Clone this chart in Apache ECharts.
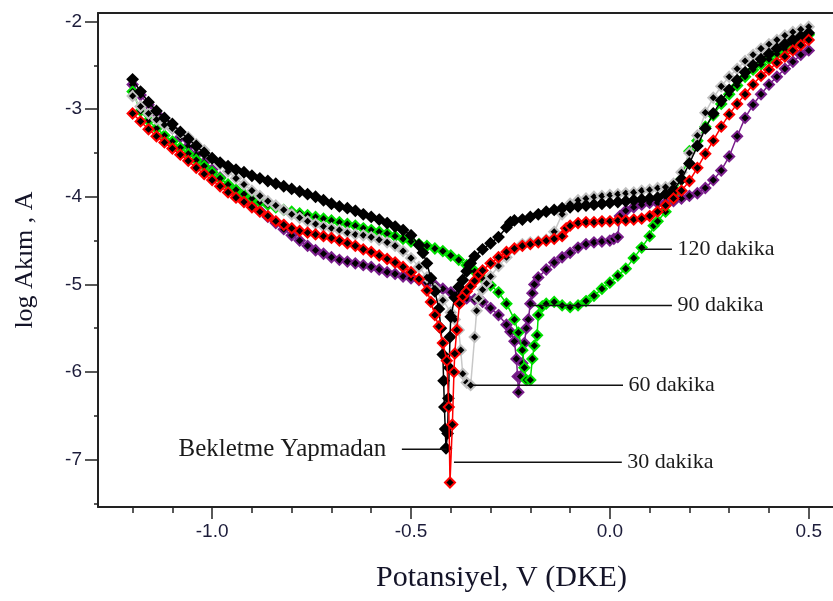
<!DOCTYPE html>
<html>
<head>
<meta charset="utf-8">
<script src="https://cdn.jsdelivr.net/npm/echarts@6/dist/echarts.min.js"></script>
<style>
  html, body { margin: 0; padding: 0; background: #fff; }
  #chart { width: 833px; height: 601px; }
</style>
</head>
<body>
<div id="chart"></div>
<script>
// tick positions
const xMajorTicks = [-1.0, -0.5, 0.0, 0.5]
const xMinorTicks = [-1.2, -1.1, -0.9, -0.8, -0.7, -0.6, -0.4, -0.3, -0.2, -0.1, 0.1, 0.2, 0.3, 0.4]
const yMajorTicks = [-2, -3, -4, -5, -6, -7]
const yMinorTicks = [-2.5, -3.5, -4.5, -5.5, -6.5, -7.5]

// Bekletme Yapmadan (siyah)
const seriesBekletme = [
  [-1.20, -2.66], [-1.18, -2.80], [-1.16, -2.92], [-1.14, -3.02], [-1.12, -3.10], [-1.10, -3.17],
  [-1.08, -3.26], [-1.06, -3.34], [-1.04, -3.42], [-1.02, -3.50], [-1.00, -3.56], [-0.98, -3.61],
  [-0.96, -3.65], [-0.94, -3.69], [-0.92, -3.72], [-0.90, -3.76], [-0.88, -3.79], [-0.86, -3.82],
  [-0.84, -3.85], [-0.82, -3.88], [-0.80, -3.91], [-0.78, -3.94], [-0.76, -3.97], [-0.74, -4.00],
  [-0.72, -4.04], [-0.70, -4.08], [-0.68, -4.11], [-0.66, -4.13], [-0.64, -4.16], [-0.62, -4.20],
  [-0.60, -4.23], [-0.58, -4.26], [-0.56, -4.30], [-0.54, -4.34], [-0.52, -4.38], [-0.50, -4.44],
  [-0.48, -4.55], [-0.47, -4.64], [-0.46, -4.76], [-0.45, -4.93], [-0.44, -5.08], [-0.43, -5.28],
  [-0.425, -5.50], [-0.42, -5.80], [-0.418, -6.10], [-0.416, -6.40], [-0.414, -6.65], [-0.412, -6.87],
  [-0.408, -6.70], [-0.406, -6.30], [-0.404, -5.95], [-0.402, -5.60], [-0.40, -5.37], [-0.39, -5.15],
  [-0.38, -5.03], [-0.37, -4.95], [-0.36, -4.85], [-0.35, -4.76], [-0.34, -4.68], [-0.32, -4.60],
  [-0.30, -4.53], [-0.28, -4.46], [-0.26, -4.35], [-0.25, -4.29], [-0.24, -4.27], [-0.22, -4.26],
  [-0.20, -4.23], [-0.18, -4.20], [-0.16, -4.17], [-0.14, -4.15], [-0.12, -4.13], [-0.10, -4.12],
  [-0.08, -4.11], [-0.06, -4.10], [-0.04, -4.09], [-0.02, -4.08], [0.00, -4.07], [0.02, -4.06],
  [0.04, -4.05], [0.06, -4.04], [0.08, -4.03], [0.10, -4.02], [0.12, -4.01], [0.14, -3.97],
  [0.16, -3.92], [0.18, -3.80], [0.20, -3.62], [0.22, -3.42], [0.24, -3.22], [0.26, -3.05],
  [0.28, -2.90], [0.30, -2.78], [0.32, -2.67], [0.34, -2.58], [0.36, -2.50], [0.38, -2.43],
  [0.40, -2.37], [0.42, -2.31], [0.44, -2.26], [0.46, -2.21], [0.48, -2.17], [0.50, -2.13]
]

// 30 dakika (kirmizi)
const series30 = [
  [-1.20, -3.05], [-1.18, -3.14], [-1.16, -3.23], [-1.14, -3.31], [-1.12, -3.38], [-1.10, -3.45],
  [-1.08, -3.52], [-1.06, -3.59], [-1.04, -3.67], [-1.02, -3.74], [-1.00, -3.81], [-0.98, -3.88],
  [-0.96, -3.95], [-0.94, -4.01], [-0.92, -4.06], [-0.90, -4.12], [-0.88, -4.17], [-0.86, -4.22],
  [-0.84, -4.28], [-0.82, -4.32], [-0.80, -4.36], [-0.78, -4.39], [-0.76, -4.41], [-0.74, -4.43],
  [-0.72, -4.45], [-0.70, -4.47], [-0.68, -4.50], [-0.66, -4.53], [-0.64, -4.56], [-0.62, -4.60],
  [-0.60, -4.63], [-0.58, -4.67], [-0.56, -4.71], [-0.54, -4.75], [-0.52, -4.80], [-0.50, -4.86],
  [-0.48, -4.94], [-0.46, -5.07], [-0.45, -5.20], [-0.44, -5.35], [-0.43, -5.48], [-0.42, -5.67],
  [-0.41, -5.87], [-0.405, -6.40], [-0.402, -7.26], [-0.396, -6.60], [-0.392, -6.00], [-0.39, -5.79],
  [-0.385, -5.52], [-0.378, -5.22], [-0.37, -5.14], [-0.36, -5.08], [-0.35, -5.02], [-0.34, -4.96],
  [-0.33, -4.89], [-0.32, -4.84], [-0.30, -4.76], [-0.28, -4.69], [-0.26, -4.63], [-0.24, -4.59],
  [-0.22, -4.56], [-0.20, -4.54], [-0.18, -4.52], [-0.16, -4.50], [-0.14, -4.48], [-0.12, -4.45],
  [-0.11, -4.36], [-0.10, -4.33], [-0.08, -4.30], [-0.06, -4.29], [-0.04, -4.29], [-0.02, -4.28],
  [0.00, -4.28], [0.02, -4.27], [0.04, -4.27], [0.06, -4.26], [0.08, -4.25], [0.10, -4.22],
  [0.12, -4.17], [0.14, -4.10], [0.16, -4.02], [0.18, -3.93], [0.20, -3.82], [0.22, -3.67],
  [0.24, -3.51], [0.26, -3.36], [0.28, -3.20], [0.30, -3.06], [0.32, -2.94], [0.34, -2.83],
  [0.36, -2.72], [0.38, -2.62], [0.40, -2.55], [0.42, -2.47], [0.44, -2.40], [0.46, -2.33],
  [0.48, -2.27], [0.50, -2.21]
]

// 60 dakika (gri)
const series60 = [
  [-1.20, -2.85], [-1.18, -2.97], [-1.16, -3.05], [-1.14, -3.12], [-1.12, -3.18], [-1.10, -3.22],
  [-1.08, -3.27], [-1.06, -3.32], [-1.04, -3.40], [-1.02, -3.47], [-1.00, -3.56], [-0.98, -3.63],
  [-0.96, -3.71], [-0.94, -3.79], [-0.92, -3.86], [-0.90, -3.93], [-0.88, -3.99], [-0.86, -4.05],
  [-0.84, -4.10], [-0.82, -4.15], [-0.80, -4.20], [-0.78, -4.24], [-0.76, -4.28], [-0.74, -4.31],
  [-0.72, -4.34], [-0.70, -4.36], [-0.68, -4.38], [-0.66, -4.41], [-0.64, -4.43], [-0.62, -4.44],
  [-0.60, -4.46], [-0.58, -4.49], [-0.56, -4.52], [-0.54, -4.56], [-0.52, -4.62], [-0.50, -4.70],
  [-0.48, -4.80], [-0.46, -4.92], [-0.44, -5.05], [-0.42, -5.18], [-0.40, -5.32], [-0.39, -5.40],
  [-0.38, -5.52], [-0.375, -5.75], [-0.37, -6.02], [-0.36, -6.12], [-0.35, -6.15], [-0.34, -5.60],
  [-0.335, -5.30], [-0.33, -5.16], [-0.32, -5.06], [-0.31, -4.99], [-0.30, -4.91], [-0.28, -4.79],
  [-0.26, -4.69], [-0.24, -4.60], [-0.22, -4.54], [-0.20, -4.52], [-0.18, -4.51], [-0.16, -4.49],
  [-0.14, -4.40], [-0.12, -4.20], [-0.10, -4.08], [-0.08, -4.04], [-0.06, -4.02], [-0.04, -4.00],
  [-0.02, -3.99], [0.00, -3.98], [0.02, -3.97], [0.04, -3.96], [0.06, -3.95], [0.08, -3.93],
  [0.10, -3.92], [0.12, -3.90], [0.14, -3.89], [0.16, -3.85], [0.18, -3.72], [0.20, -3.50],
  [0.22, -3.30], [0.24, -3.04], [0.26, -2.87], [0.28, -2.74], [0.30, -2.63], [0.32, -2.54],
  [0.34, -2.45], [0.36, -2.38], [0.38, -2.31], [0.40, -2.26], [0.42, -2.21], [0.44, -2.16],
  [0.46, -2.12], [0.48, -2.09], [0.50, -2.06]
]

// 90 dakika (mor)
const series90 = [
  [-1.20, -2.72], [-1.18, -2.84], [-1.16, -2.95], [-1.14, -3.05], [-1.12, -3.14], [-1.10, -3.22],
  [-1.08, -3.32], [-1.06, -3.42], [-1.04, -3.52], [-1.02, -3.61], [-1.00, -3.69], [-0.98, -3.78],
  [-0.96, -3.87], [-0.94, -3.95], [-0.92, -4.02], [-0.90, -4.09], [-0.88, -4.16], [-0.86, -4.23],
  [-0.84, -4.30], [-0.82, -4.37], [-0.80, -4.44], [-0.78, -4.50], [-0.76, -4.56], [-0.74, -4.61],
  [-0.72, -4.65], [-0.70, -4.69], [-0.68, -4.72], [-0.66, -4.74], [-0.64, -4.76], [-0.62, -4.78],
  [-0.60, -4.80], [-0.58, -4.83], [-0.56, -4.86], [-0.54, -4.88], [-0.52, -4.91], [-0.50, -4.93],
  [-0.48, -4.95], [-0.46, -4.98], [-0.44, -5.01], [-0.42, -5.05], [-0.40, -5.09], [-0.38, -5.13],
  [-0.36, -5.16], [-0.34, -5.17], [-0.32, -5.20], [-0.30, -5.27], [-0.28, -5.35], [-0.26, -5.46],
  [-0.25, -5.54], [-0.24, -5.65], [-0.235, -5.85], [-0.232, -6.05], [-0.23, -6.23], [-0.225, -6.05],
  [-0.22, -5.90], [-0.215, -5.67], [-0.21, -5.50], [-0.205, -5.40], [-0.20, -5.22], [-0.195, -5.10],
  [-0.19, -5.00], [-0.18, -4.92], [-0.16, -4.83], [-0.14, -4.75], [-0.12, -4.69], [-0.10, -4.64],
  [-0.08, -4.58], [-0.06, -4.54], [-0.04, -4.52], [-0.02, -4.51], [0.00, -4.50], [0.01, -4.48],
  [0.02, -4.46], [0.025, -4.22], [0.04, -4.16], [0.06, -4.12], [0.08, -4.09], [0.10, -4.07],
  [0.12, -4.07], [0.14, -4.07], [0.16, -4.05], [0.18, -4.02], [0.20, -3.99], [0.22, -3.96],
  [0.24, -3.90], [0.26, -3.81], [0.28, -3.70], [0.30, -3.54], [0.32, -3.31], [0.34, -3.10],
  [0.36, -2.95], [0.38, -2.83], [0.40, -2.72], [0.42, -2.63], [0.44, -2.54], [0.46, -2.46],
  [0.48, -2.38], [0.50, -2.33]
]

// 120 dakika (yesil)
const series120 = [
  [-1.20, -2.80], [-1.18, -3.02], [-1.16, -3.13], [-1.14, -3.22], [-1.12, -3.30], [-1.10, -3.37],
  [-1.08, -3.44], [-1.06, -3.51], [-1.04, -3.58], [-1.02, -3.65], [-1.00, -3.72], [-0.98, -3.79],
  [-0.96, -3.86], [-0.94, -3.92], [-0.92, -3.97], [-0.90, -4.02], [-0.88, -4.06], [-0.86, -4.09],
  [-0.84, -4.12], [-0.82, -4.15], [-0.80, -4.17], [-0.78, -4.19], [-0.76, -4.21], [-0.74, -4.23],
  [-0.72, -4.25], [-0.70, -4.27], [-0.68, -4.29], [-0.66, -4.31], [-0.64, -4.33], [-0.62, -4.36],
  [-0.60, -4.38], [-0.58, -4.40], [-0.56, -4.42], [-0.54, -4.45], [-0.52, -4.48], [-0.50, -4.51],
  [-0.48, -4.54], [-0.46, -4.56], [-0.44, -4.59], [-0.42, -4.62], [-0.40, -4.67], [-0.38, -4.72],
  [-0.36, -4.78], [-0.34, -4.85], [-0.32, -4.93], [-0.30, -5.01], [-0.28, -5.09], [-0.26, -5.22],
  [-0.24, -5.40], [-0.23, -5.55], [-0.22, -5.75], [-0.215, -5.95], [-0.21, -6.09], [-0.20, -6.09],
  [-0.195, -5.85], [-0.19, -5.70], [-0.183, -5.58], [-0.18, -5.35], [-0.17, -5.25], [-0.16, -5.22],
  [-0.14, -5.20], [-0.12, -5.24], [-0.10, -5.26], [-0.08, -5.24], [-0.06, -5.19], [-0.04, -5.13],
  [-0.02, -5.05], [0.00, -4.98], [0.02, -4.90], [0.04, -4.82], [0.06, -4.70], [0.08, -4.58],
  [0.10, -4.45], [0.11, -4.33], [0.12, -4.28], [0.14, -4.17], [0.16, -3.97], [0.18, -3.80],
  [0.20, -3.48], [0.22, -3.36], [0.24, -3.20], [0.26, -3.07], [0.28, -2.94], [0.30, -2.83],
  [0.32, -2.73], [0.34, -2.63], [0.36, -2.55], [0.38, -2.49], [0.40, -2.43], [0.42, -2.37],
  [0.44, -2.32], [0.46, -2.26], [0.48, -2.20], [0.50, -2.15]
]

// etiket cizgileri [baslangic, bitis]
const noteBekletme = [[-0.523, -6.88], [-0.41, -6.88]]
const note30 = [[-0.392, -7.03], [0.030, -7.03]]
const note60 = [[-0.352, -6.15], [0.033, -6.15]]
const note90 = [[-0.200, -5.24], [0.156, -5.24]]
const note120 = [[0.083, -4.60], [0.156, -4.60]]

const myChart = echarts.init(document.getElementById('chart'))

const xMin = -1.287
const xMax = 0.561
const yMin = -7.54
const yMax = -1.903

const axisColor = '#222'
const tickLabelStyle = { fontFamily: 'Liberation Sans', fontSize: 19, color: '#1c1c3a' }

const curve = (name, data, lineColor, borderColor, z) => ({
  name: name,
  type: 'line',
  data: data,
  z: z,
  symbol: 'diamond',
  symbolSize: 10,
  showAllSymbol: true,
  lineStyle: { color: lineColor, width: 1.5 },
  itemStyle: { color: '#000', borderColor: borderColor, borderWidth: 2 }
})

// etiketli yardimci cizgi
const note = (pts, label, side, size) => ({
  type: 'line',
  z: 10,
  symbol: 'circle',
  symbolSize: 1,
  showSymbol: true,
  silent: true,
  itemStyle: { color: 'rgba(0,0,0,0)' },
  lineStyle: { color: '#111', width: 1.5 },
  data: [
    side === 'left'
      ? { value: pts[0], label: { show: true, position: 'left', distance: 15, formatter: label } }
      : pts[0],
    side === 'right'
      ? { value: pts[1], label: { show: true, position: 'right', distance: 5, formatter: label } }
      : pts[1]
  ],
  label: { fontFamily: 'Liberation Serif', fontSize: size, color: '#1a1a1a' }
})

const hiddenAxisBits = {
  axisLabel: { show: false },
  splitLine: { show: false }
}

const option = {
  animation: false,
  backgroundColor: '#fff',
  grid: { left: 98, right: 0, top: 13, bottom: 94 },
  xAxis: [
    Object.assign({
      type: 'value', min: xMin, max: xMax, position: 'bottom',
      axisLine: { show: true, onZero: false, lineStyle: { color: axisColor, width: 2 } },
      axisTick: { show: true, customValues: xMinorTicks, length: 6, lineStyle: { color: axisColor, width: 1.5 } }
    }, hiddenAxisBits),
    {
      type: 'value', min: xMin, max: xMax, position: 'bottom',
      name: 'Potansiyel, V (DKE)',
      nameLocation: 'middle',
      nameGap: 56,
      nameTextStyle: { fontFamily: 'Liberation Serif', fontSize: 30, color: '#141428', padding: [0, 0, 0, 72] },
      axisLine: { show: false, onZero: false },
      axisTick: { show: true, customValues: xMajorTicks, length: 12, lineStyle: { color: axisColor, width: 1.5 } },
      axisLabel: Object.assign({ customValues: xMajorTicks, margin: 15, formatter: v => v.toFixed(1) }, tickLabelStyle),
      splitLine: { show: false }
    },
    Object.assign({
      type: 'value', min: xMin, max: xMax, position: 'top',
      axisLine: { show: true, onZero: false, lineStyle: { color: axisColor, width: 2 } },
      axisTick: { show: false }
    }, hiddenAxisBits)
  ],
  yAxis: [
    Object.assign({
      type: 'value', min: yMin, max: yMax, position: 'left',
      axisLine: { show: true, onZero: false, lineStyle: { color: axisColor, width: 2 } },
      axisTick: { show: true, customValues: yMinorTicks, length: 4, lineStyle: { color: axisColor, width: 1.5 } }
    }, hiddenAxisBits),
    {
      type: 'value', min: yMin, max: yMax, position: 'left',
      name: 'log Akım , A',
      nameLocation: 'middle',
      nameGap: 60,
      nameRotate: 90,
      nameTextStyle: { fontFamily: 'Liberation Serif', fontSize: 26, color: '#141428' },
      axisLine: { show: false, onZero: false },
      axisTick: { show: true, customValues: yMajorTicks, length: 13, lineStyle: { color: axisColor, width: 1.5 } },
      axisLabel: Object.assign({ customValues: yMajorTicks, margin: 16 }, tickLabelStyle),
      splitLine: { show: false }
    }
  ],
  series: [
    curve('90 dakika', series90, '#7a1f8c', '#7a1f8c', 2),
    curve('120 dakika', series120, '#00e000', '#00e000', 3),
    curve('60 dakika', series60, '#c8c8c8', '#c0c0c0', 4),
    curve('Bekletme Yapmadan', seriesBekletme, '#000', '#000', 5),
    curve('30 dakika', series30, '#ff0000', '#ff0000', 6),
    note(noteBekletme, 'Bekletme Yapmadan', 'left', 25),
    note(note30, '30 dakika', 'right', 22),
    note(note60, '60 dakika', 'right', 22),
    note(note90, '90 dakika', 'right', 22),
    note(note120, '120 dakika', 'right', 22)
  ]
}

myChart.setOption(option)
</script>
</body>
</html>
